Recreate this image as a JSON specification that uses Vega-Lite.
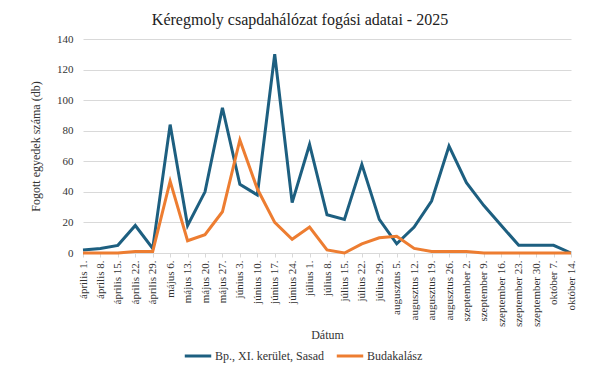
{
  "$schema": "https://vega.github.io/schema/vega-lite/v6.json",
  "width": 488,
  "height": 214,
  "autosize": {"type": "none"},
  "padding": {"left": 83, "top": 39, "right": 29, "bottom": 126},
  "background": "white",
  "title": {
    "text": "Kéregmoly csapdahálózat fogási adatai - 2025",
    "font": "Liberation Serif, Times New Roman, serif",
    "fontSize": 16,
    "fontWeight": "normal",
    "color": "#222222",
    "anchor": "middle",
    "frame": "group",
    "dx": -27,
    "offset": 5
  },
  "config": {
    "view": {"stroke": null},
    "font": "Liberation Serif, Times New Roman, serif"
  },
  "data": {
    "values": [
      {"d": "április 1.", "i": 1, "s": "Bp., XI. kerület, Sasad", "v": 2},
      {"d": "április 8.", "i": 2, "s": "Bp., XI. kerület, Sasad", "v": 3},
      {"d": "április 15.", "i": 3, "s": "Bp., XI. kerület, Sasad", "v": 5},
      {"d": "április 22.", "i": 4, "s": "Bp., XI. kerület, Sasad", "v": 18},
      {"d": "április 29.", "i": 5, "s": "Bp., XI. kerület, Sasad", "v": 3},
      {"d": "május 6.", "i": 6, "s": "Bp., XI. kerület, Sasad", "v": 84},
      {"d": "május 13.", "i": 7, "s": "Bp., XI. kerület, Sasad", "v": 18},
      {"d": "május 20.", "i": 8, "s": "Bp., XI. kerület, Sasad", "v": 40},
      {"d": "május 27.", "i": 9, "s": "Bp., XI. kerület, Sasad", "v": 95},
      {"d": "június 3.", "i": 10, "s": "Bp., XI. kerület, Sasad", "v": 45},
      {"d": "június 10.", "i": 11, "s": "Bp., XI. kerület, Sasad", "v": 38},
      {"d": "június 17.", "i": 12, "s": "Bp., XI. kerület, Sasad", "v": 130},
      {"d": "június 24.", "i": 13, "s": "Bp., XI. kerület, Sasad", "v": 33},
      {"d": "július 1.", "i": 14, "s": "Bp., XI. kerület, Sasad", "v": 71},
      {"d": "július 8.", "i": 15, "s": "Bp., XI. kerület, Sasad", "v": 25},
      {"d": "július 15.", "i": 16, "s": "Bp., XI. kerület, Sasad", "v": 22},
      {"d": "július 22.", "i": 17, "s": "Bp., XI. kerület, Sasad", "v": 58},
      {"d": "július 29.", "i": 18, "s": "Bp., XI. kerület, Sasad", "v": 22},
      {"d": "augusztus 5.", "i": 19, "s": "Bp., XI. kerület, Sasad", "v": 6},
      {"d": "augusztus 12.", "i": 20, "s": "Bp., XI. kerület, Sasad", "v": 17},
      {"d": "augusztus 19.", "i": 21, "s": "Bp., XI. kerület, Sasad", "v": 34},
      {"d": "augusztus 26.", "i": 22, "s": "Bp., XI. kerület, Sasad", "v": 70},
      {"d": "szeptember 2.", "i": 23, "s": "Bp., XI. kerület, Sasad", "v": 46},
      {"d": "szeptember 9.", "i": 24, "s": "Bp., XI. kerület, Sasad", "v": 31},
      {"d": "szeptember 16.", "i": 25, "s": "Bp., XI. kerület, Sasad", "v": 18},
      {"d": "szeptember 23.", "i": 26, "s": "Bp., XI. kerület, Sasad", "v": 5},
      {"d": "szeptember 30.", "i": 27, "s": "Bp., XI. kerület, Sasad", "v": 5},
      {"d": "október 7.", "i": 28, "s": "Bp., XI. kerület, Sasad", "v": 5},
      {"d": "október 14.", "i": 29, "s": "Bp., XI. kerület, Sasad", "v": 0},
      {"d": "április 1.", "i": 1, "s": "Budakalász", "v": 0},
      {"d": "április 8.", "i": 2, "s": "Budakalász", "v": 0},
      {"d": "április 15.", "i": 3, "s": "Budakalász", "v": 0},
      {"d": "április 22.", "i": 4, "s": "Budakalász", "v": 1},
      {"d": "április 29.", "i": 5, "s": "Budakalász", "v": 1},
      {"d": "május 6.", "i": 6, "s": "Budakalász", "v": 47},
      {"d": "május 13.", "i": 7, "s": "Budakalász", "v": 8},
      {"d": "május 20.", "i": 8, "s": "Budakalász", "v": 12},
      {"d": "május 27.", "i": 9, "s": "Budakalász", "v": 27},
      {"d": "június 3.", "i": 10, "s": "Budakalász", "v": 74},
      {"d": "június 10.", "i": 11, "s": "Budakalász", "v": 42},
      {"d": "június 17.", "i": 12, "s": "Budakalász", "v": 20},
      {"d": "június 24.", "i": 13, "s": "Budakalász", "v": 9},
      {"d": "július 1.", "i": 14, "s": "Budakalász", "v": 17},
      {"d": "július 8.", "i": 15, "s": "Budakalász", "v": 2},
      {"d": "július 15.", "i": 16, "s": "Budakalász", "v": 0},
      {"d": "július 22.", "i": 17, "s": "Budakalász", "v": 6},
      {"d": "július 29.", "i": 18, "s": "Budakalász", "v": 10},
      {"d": "augusztus 5.", "i": 19, "s": "Budakalász", "v": 11},
      {"d": "augusztus 12.", "i": 20, "s": "Budakalász", "v": 3},
      {"d": "augusztus 19.", "i": 21, "s": "Budakalász", "v": 1},
      {"d": "augusztus 26.", "i": 22, "s": "Budakalász", "v": 1},
      {"d": "szeptember 2.", "i": 23, "s": "Budakalász", "v": 1},
      {"d": "szeptember 9.", "i": 24, "s": "Budakalász", "v": 0},
      {"d": "szeptember 16.", "i": 25, "s": "Budakalász", "v": 0},
      {"d": "szeptember 23.", "i": 26, "s": "Budakalász", "v": 0},
      {"d": "szeptember 30.", "i": 27, "s": "Budakalász", "v": 0},
      {"d": "október 7.", "i": 28, "s": "Budakalász", "v": 0},
      {"d": "október 14.", "i": 29, "s": "Budakalász", "v": 0}
    ]
  },
  "mark": {"type": "line", "strokeWidth": 3, "strokeJoin": "miter", "strokeCap": "butt"},
  "encoding": {
    "x": {
      "field": "d",
      "type": "ordinal",
      "sort": {"field": "i", "op": "min"},
      "scale": {"type": "point", "padding": 0},
      "axis": {
        "title": "Dátum",
        "titleFont": "Liberation Serif, Times New Roman, serif",
        "titleFontSize": 12,
        "titleFontWeight": "normal",
        "titleColor": "#333333",
        "titlePadding": 3,
        "labelAngle": -90,
        "labelAlign": "right",
        "labelBaseline": "middle",
        "labelFont": "Liberation Serif, Times New Roman, serif",
        "labelFontSize": 11,
        "labelColor": "#333333",
        "labelPadding": 3,
        "domainColor": "#d9d9d9",
        "tickColor": "#d9d9d9",
        "tickSize": 4,
        "grid": false
      }
    },
    "y": {
      "field": "v",
      "type": "quantitative",
      "scale": {"domain": [0, 140]},
      "axis": {
        "title": "Fogott egyedek száma (db)",
        "titleFont": "Liberation Serif, Times New Roman, serif",
        "titleFontSize": 12,
        "titleFontWeight": "normal",
        "titleColor": "#333333",
        "titlePadding": 14,
        "values": [0, 20, 40, 60, 80, 100, 120, 140],
        "labelFont": "Liberation Serif, Times New Roman, serif",
        "labelFontSize": 11,
        "labelColor": "#333333",
        "labelPadding": 10,
        "domain": false,
        "ticks": false,
        "gridColor": "#d9d9d9",
        "gridWidth": 1
      }
    },
    "color": {
      "field": "s",
      "type": "nominal",
      "sort": ["Bp., XI. kerület, Sasad", "Budakalász"],
      "scale": {"domain": ["Bp., XI. kerület, Sasad", "Budakalász"], "range": ["#1d5f80", "#ed7d31"]},
      "legend": {
        "title": null,
        "orient": "none",
        "legendX": 100,
        "legendY": 302,
        "direction": "horizontal",
        "symbolType": "stroke",
        "symbolSize": 700,
        "symbolStrokeWidth": 3,
        "labelFont": "Liberation Serif, Times New Roman, serif",
        "labelFontSize": 12,
        "labelColor": "#333333",
        "labelOffset": 2,
        "columnPadding": 6
      }
    }
  }
}
